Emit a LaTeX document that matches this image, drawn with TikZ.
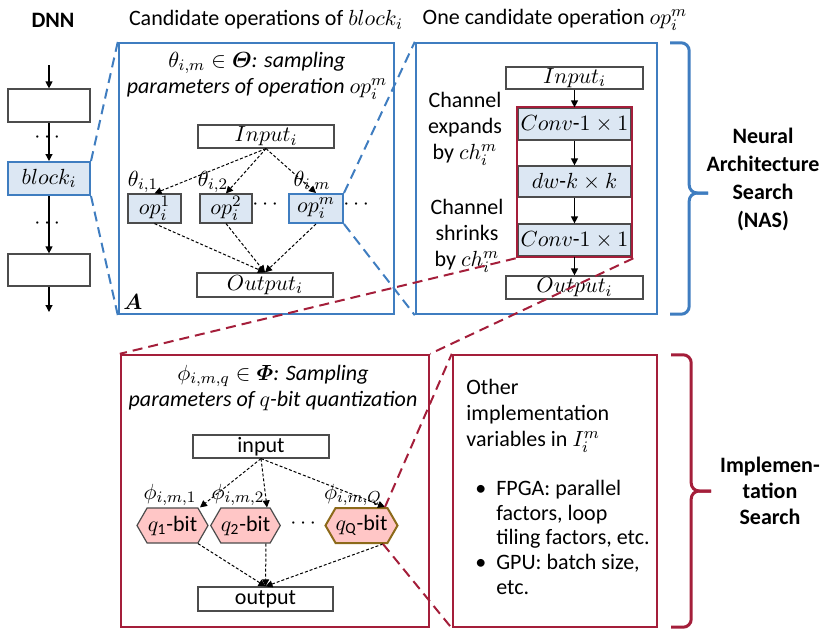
\documentclass[tikz,border=0pt]{standalone}
\usepackage{amsmath,amssymb}
\usepackage{fontspec}
\setmainfont{Carlito}
\usepackage{xcolor}
\usepackage{tikz}
\usetikzlibrary{arrows.meta,positioning,shapes.symbols}
\definecolor{nblue}{HTML}{3F7DC0}
\definecolor{nfill}{HTML}{DCE7F3}
\definecolor{nred}{HTML}{A41E3A}
\definecolor{npink}{HTML}{FFC6C6}
\definecolor{nolive}{HTML}{8C6A1A}

\begin{document}
\begin{tikzpicture}[x=0.5pt,y=-0.5pt,
    font=\fontsize{11}{13}\selectfont,
    wbox/.style={draw=black!70,line width=0.6pt,inner sep=0pt},
    opbox/.style={wbox,fill=nfill},
    blueframe/.style={draw=nblue,line width=1.2pt,inner sep=0pt},
    redframe/.style={draw=nred,line width=1.2pt,inner sep=0pt},
    hexq/.style={shape=signal,signal to=west and east,signal pointer angle=120,
      fill=npink,draw=black!70,line width=0.6pt,inner sep=0pt,minimum height=17.5pt},
    dasharr/.style={-{Triangle[length=3.5pt,width=3.5pt]},dash pattern=on 1.5pt off 1pt,line width=0.5pt},
    solarr/.style={-{Triangle[length=3.5pt,width=3.5pt]},line width=0.6pt},
    zoomb/.style={draw=nblue,line width=1pt,dash pattern=on 5pt off 3pt},
    zoomr/.style={draw=nred,line width=1pt,dash pattern=on 5pt off 3pt},
    bracket/.style={line width=1.5pt,rounded corners=4pt}]
  \useasboundingbox (0,0) rectangle (832,633);

  \node[font=\fontsize{11}{13}\selectfont\bfseries] (tdnn) at (53,20) {DNN};
  \node (tcand) at (266,20) {Candidate operations of $block_i$};
  \node (tone) at (555,20) {One candidate operation $op_i^m$};

  \coordinate (dtop) at (49,65);
  \coordinate (dbot) at (49,312);
  \node[wbox,minimum width=41pt,minimum height=16.5pt] (dnn1) at (49,105.5) {};
  \node[opbox,draw=nblue,line width=1pt,minimum width=41pt,minimum height=16.5pt] (block) at (49,178.5) {$block_i$};
  \node[wbox,minimum width=41pt,minimum height=16pt] (dnn3) at (49,270) {};
  \draw[solarr] (dtop) -- (dnn1.north);
  \draw[solarr] (dnn1.south) -- (block.north);
  \draw[solarr] (block.south) -- (dnn3.north);
  \draw[solarr] (dnn3.south) -- (dbot);
  \node (dots1) at (49,138) {$\cdots$};
  \node (dots2) at (49,224) {$\cdots$};

  \node[blueframe,minimum width=137.5pt,minimum height=135.5pt] (boxA) at (256.5,178.5) {};
  \node[blueframe,minimum width=120.5pt,minimum height=135.5pt] (boxB) at (536.5,178.5) {};
  \node[redframe,minimum width=154pt,minimum height=136pt] (boxC) at (275,491) {};
  \node[redframe,minimum width=102pt,minimum height=136pt] (boxD) at (555,491) {};

  \node[align=center] (ttheta) at (257,76)
    {$\theta_{i,m}\in\boldsymbol{\varTheta}$\textit{: sampling}\\
     \textit{parameters of operation} $op_i^m$};
  \node[wbox,minimum width=68pt,minimum height=11.5pt] (inA) at (266,136.5) {$Input_i$};
  \node[opbox,minimum width=26.5pt,minimum height=14.5pt] (op1) at (154.5,208.5) {$op_i^1$};
  \node[opbox,minimum width=26pt,minimum height=14.5pt] (op2) at (226,208.5) {$op_i^2$};
  \node[opbox,draw=nblue,line width=1pt,minimum width=27pt,minimum height=14.5pt] (opm) at (316,208.5) {$op_i^m$};
  \node (dotsA1) at (267,205) {$\cdots$};
  \node (dotsA2) at (358,205) {$\cdots$};
  \node (th1) at (143,182) {$\theta_{i,1}$};
  \node (th2) at (213,182) {$\theta_{i,2}$};
  \node (thm) at (312,182) {$\theta_{i,m}$};
  \node[wbox,minimum width=68pt,minimum height=12pt] (outA) at (265,285) {$Output_i$};
  \node (lblA) at (133,302) {$\boldsymbol{A}$};
  \foreach \o in {op1,op2,opm}{
    \draw[dasharr] (inA.south) -- (\o.north);
    \draw[dasharr] (\o.south) -- (outA.north);
  }

  \node[wbox,minimum width=68.5pt,minimum height=11pt] (inB) at (574.5,78) {$Input_i$};
  \node[opbox,minimum width=56.5pt,minimum height=16pt] (conv1) at (574.5,124) {$Conv$-$1\times 1$};
  \node[opbox,minimum width=56.5pt,minimum height=15.5pt] (dw) at (574.5,181.5) {$dw$-$k\times k$};
  \node[opbox,minimum width=56.5pt,minimum height=16pt] (conv2) at (574.5,240) {$Conv$-$1\times 1$};
  \node[draw=nred,line width=1.3pt,inner sep=0pt,minimum width=57.5pt,minimum height=75pt] (redbox) at (574.5,182) {};
  \node[wbox,minimum width=68.5pt,minimum height=11.5pt] (outB) at (574.5,287.5) {$Output_i$};
  \draw[solarr] (inB) -- (conv1);
  \draw[solarr] (conv1) -- (dw);
  \draw[solarr] (dw) -- (conv2);
  \draw[solarr] (conv2) -- (outB);
  \node[align=center] (expand) at (465,129) {Channel\\expands\\by $ch_i^m$};
  \node[align=center] (shrink) at (467,236) {Channel\\shrinks\\by $ch_i^m$};

  \node[align=center] (tphi) at (273,388)
    {$\phi_{i,m,q}\in\boldsymbol{\varPhi}$\textit{: Sampling}\\
     \textit{parameters of $q$-bit quantization}};
  \node[wbox,minimum width=68pt,minimum height=11.5pt] (inC) at (261,446.5) {input};
  \node[hexq,minimum width=35.5pt] (q1) at (172.5,525.5) {$q_{\text{1}}$-bit};
  \node[hexq,minimum width=30.5pt] (q2) at (245.5,525.5) {$q_{\text{2}}$-bit};
  \node[hexq,draw=nolive,line width=1pt,minimum width=31.5pt] (qQ) at (361.5,525.5) {$q_{\text{Q}}$-bit};
  \node (dotsC) at (305,524) {$\cdots$};
  \node (ph1) at (170,495) {$\phi_{i,m,1}$};
  \node (ph2) at (238,495) {$\phi_{i,m,2}$};
  \node (phQ) at (353,495) {$\phi_{i,m,Q}$};
  \node[wbox,minimum width=67.5pt,minimum height=12pt] (outC) at (265.5,599) {output};
  \draw[dasharr] (inC.south) -- ([xshift=13.75pt]q1.north);
  \draw[dasharr] (inC.south) -- ([xshift=10.75pt]q2.north);
  \draw[dasharr] (inC.south) -- ([xshift=11.75pt]qQ.north);
  \draw[dasharr] ([xshift=12.75pt]q1.south) -- (outC.north);
  \draw[dasharr] ([xshift=10.25pt]q2.south) -- (outC.north);
  \draw[dasharr] ([xshift=10.75pt]qQ.south) -- (outC.north);

  \node[anchor=west,align=left,inner sep=0pt] (other) at (466,416)
    {Other\\implementation\\variables in $I_i^m$};
  \node[anchor=west,inner sep=0pt,font=\fontsize{11}{12.3}\selectfont] (impl) at (475,540)
    {\begin{tabular}{@{}l@{\hspace{5pt}}l@{}}
      \textbullet & FPGA: parallel\\
                  & factors, loop\\
                  & tiling factors, etc.\\
      \textbullet & GPU: batch size,\\
                  & etc.
     \end{tabular}};

  \draw[zoomb] (block.north east) -- (boxA.north west);
  \draw[zoomb] (block.south east) -- (boxA.south west);
  \draw[zoomb] (opm.north east) -- (boxB.north west);
  \draw[zoomb] (opm.south east) -- (boxB.south west);
  \draw[zoomr] (redbox.south west) -- (boxC.north west);
  \draw[zoomr] (redbox.south east) -- (boxC.north east);
  \draw[zoomr] ([xshift=11.75pt]qQ.north) -- (boxD.north west);
  \draw[zoomr] ([xshift=10.75pt]qQ.south) -- (boxD.south west);

  \coordinate (nastip) at ([xshift=15.5pt,yshift=-7.25pt]boxB.east);
  \draw[nblue,bracket] ([xshift=6pt,yshift=-0.5pt]boxB.north east) -| (nastip) -- ++(9.5pt,0);
  \draw[nblue,bracket] ([xshift=9.5pt]nastip) -- (nastip) |- ([xshift=6pt,yshift=0.5pt]boxB.south east);
  \coordinate (imptip) at ([xshift=16.5pt]boxD.east);
  \draw[nred,bracket] ([xshift=6.5pt,yshift=-0.5pt]boxD.north east) -| (imptip) -- ++(10pt,0);
  \draw[nred,bracket] ([xshift=10pt]imptip) -- (imptip) |- ([xshift=6.5pt,yshift=0.5pt]boxD.south east);
  \node[align=center,font=\fontsize{11}{14}\selectfont\bfseries] (nas) at (763,179)
    {Neural\\Architecture\\Search\\(NAS)};
  \node[align=center,font=\fontsize{11}{13}\selectfont\bfseries] (isearch) at (770,491)
    {Implemen-\\tation\\Search};
\end{tikzpicture}
\end{document}
